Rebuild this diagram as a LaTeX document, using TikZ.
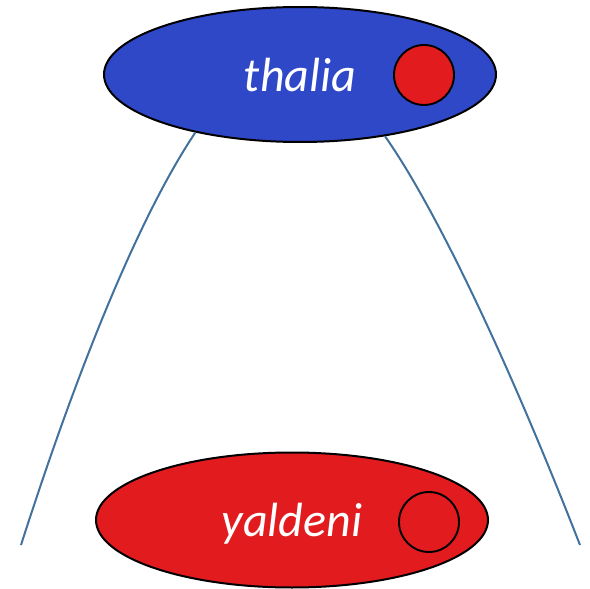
\documentclass[tikz,border=0pt]{standalone}
\usepackage{fontspec}
\setmainfont{Carlito}
\usetikzlibrary{shapes.geometric,positioning}
\definecolor{thaliablue}{RGB}{47,72,200}
\definecolor{dotred}{RGB}{225,27,30}
\definecolor{linkblue}{RGB}{65,113,156}
\tikzset{
  blob/.style={
    shape = ellipse,
    draw,
    line width = 2pt,
    minimum width = 392pt,
    minimum height = 135pt,
    inner sep = 0pt,
    text = white,
    text depth = 0pt,
    font = \fontsize{48}{48}\selectfont\itshape
  },
  dot/.style={
    shape = circle,
    draw,
    line width = 1.9pt,
    minimum size = 60pt,
    inner sep = 0pt,
    fill = dotred
  },
  link/.style={
    draw = linkblue,
    line width = 2pt
  },
}

\begin{document}
\begin{tikzpicture}[x=1pt,y=-1pt]
  \useasboundingbox (0,0) rectangle (590,589);
  % the two groups
  \node[blob, fill=thaliablue] (thalia) at (300,74.5) {thalia};
  \node[blob, fill=dotred] (yaldeni) at (292,520) {yaldeni};
  \node[dot] (thaliadot) at (424,75) {};
  \node[dot] (yaldenidot) at (429,522) {};
  % free ends of the curves
  \coordinate (leftend) at (21,545);
  \coordinate (rightend) at (580,545);
  \draw[link] (thalia.209) .. controls (150,200) and (90,330) .. (leftend);
  \draw[link] (thalia.324) .. controls (430,200) and (500,340) .. (rightend);
\end{tikzpicture}
\end{document}
